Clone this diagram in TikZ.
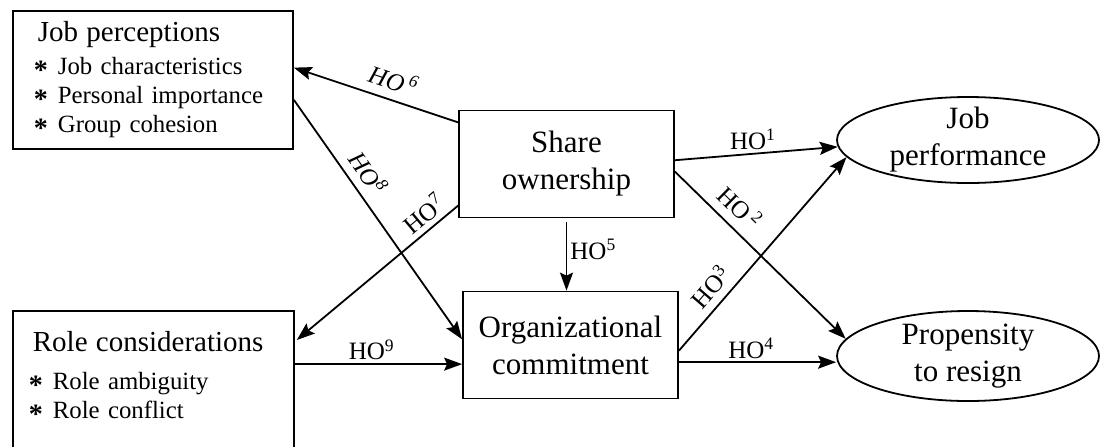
\documentclass[tikz,border=0pt]{standalone}
\usepackage{fontspec}
\setmainfont{Liberation Serif}
\usetikzlibrary{arrows.meta,shapes.geometric,calc}
\tikzset{
	box/.style={draw, line width=0.9pt, rectangle, align=center, minimum width=107.5pt, minimum height=53.5pt, inner sep=0pt, font=\fontsize{15.5}{18.5}\selectfont},
	listbox/.style={draw, line width=0.9pt, rectangle, anchor=north west, align=left, font=\fontsize{12.4}{14.5}\selectfont},
	oval/.style={draw, line width=0.9pt, ellipse, align=center, minimum width=131pt, minimum height=43pt, inner sep=-2pt, font=\fontsize{15.5}{18.5}\selectfont},
	link/.style={line width=0.9pt, -{Stealth[length=9pt,width=6.5pt,inset=1.5pt]}},
	lbl/.style={font=\fontsize{12.5}{14}\selectfont, inner sep=1.5pt}
}
\newcommand{\bul}{\hspace*{-2pt}\makebox[12pt][l]{\raisebox{-0.5ex}{\fontsize{14}{14}\selectfont\bfseries *}}}
\newcommand{\ttl}{\fontsize{14.5}{16.5}\selectfont}

\begin{document}
\begin{tikzpicture}[x=0.5pt, y=-0.5pt]
	\useasboundingbox (0,0) rectangle (1101,446);
	\clip (0,0) rectangle (1101,446);

	% boxes
	\node[listbox, text width=115pt, inner xsep=12.5pt, inner ysep=5pt, text depth=49pt] (jobp) at (12,10)
		{{\ttl Job perceptions}\\[2pt]
		\bul Job characteristics\\
		\bul Personal importance\\
		\bul Group cohesion};
	\node[listbox, text width=120.5pt, inner xsep=10pt, inner ysep=10pt, text depth=80pt] (role) at (12,310)
		{{\ttl Role considerations}\\[4.5pt]
		\bul Role ambiguity\\
		\bul Role conflict};
	\node[box] (share) at (566.5,164) {Share\\ownership};
	\node[box] (org) at (570.5,345) {Organizational\\commitment};
	\node[oval] (jobperf) at (968,140) {Job\\performance};
	\node[oval, minimum height=45pt] (prop) at (968,356) {Propensity\\to resign};

	% hypotheses
	\draw[link] (share.159) -- node[lbl, sloped, above=3pt, pos=.43] {\textit{HO}\,\textsuperscript{\textit{6}}} (jobp.5);
	\draw[link] (share.201) -- node[lbl, sloped, above=1pt, pos=.15] {HO\textsuperscript{7}} ($(role.north east)+(2,30)$);
	\draw[link] (jobp.-8) -- node[lbl, sloped, above=2.5pt, pos=.35] {\textit{HO}\textsuperscript{\textit{8}}} (org.177);
	\draw[link] (org.190 -| role.east) -- node[lbl, above, pos=.46] {HO\textsuperscript{9}} (org.190);
	\draw[link] ([yshift=-2pt]share.south) -- node[lbl, right, pos=.4] {HO\textsuperscript{5}} (share.south |- org.north);
	\draw[link] (share.2) -- node[lbl, above, pos=.48] {HO\textsuperscript{1}} (jobperf.183);
	\draw[link] (share.-4) -- node[lbl, sloped, above=3pt, pos=.3] {HO\,\textsuperscript{2}} (prop.172);
	\draw[link] (org.-3) -- node[lbl, sloped, above=2pt, pos=.27] {HO\textsuperscript{3}} (jobperf.188);
	\draw[link] (org.-9) -- node[lbl, above, pos=.46] {HO\textsuperscript{4}} (org.-9 -| prop.west);
\end{tikzpicture}
\end{document}
